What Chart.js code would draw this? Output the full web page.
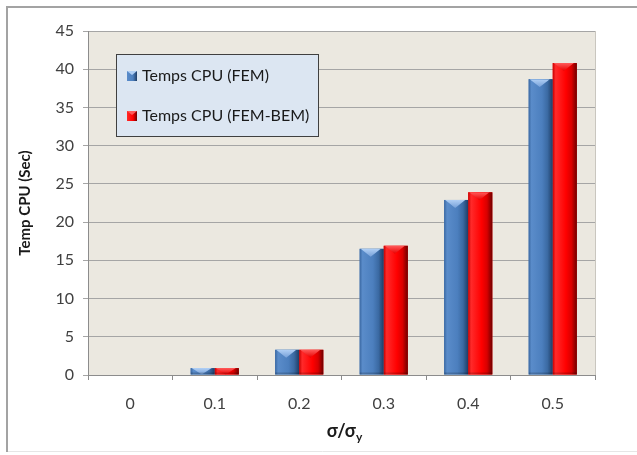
<!DOCTYPE html>
<html>
<head>
<meta charset="utf-8">
<script src="https://cdn.jsdelivr.net/npm/chart.js@4.4.1/dist/chart.umd.min.js"></script>
<style>
  html, body { margin: 0; padding: 0; background: #ffffff; }
  #wrap { width: 637px; height: 455px; position: relative; }
</style>
</head>
<body>
<div id="wrap"><canvas id="c" width="637" height="455"></canvas></div>
<script>
// Stress ratio categories and CPU times (seconds)
const categories = ['0', '0.1', '0.2', '0.3', '0.4', '0.5'];
const cpuFEM = [0, 0.9, 3.3, 16.5, 22.9, 38.7];
const cpuFEMBEM = [0, 0.9, 3.3, 16.9, 23.9, 40.8];
const seriesNames = ['Temps CPU (FEM)', 'Temps CPU (FEM-BEM)'];
const yTicks = { min: 0, max: 45, step: 5 };

const FONT = 'Lato, "Liberation Sans", sans-serif';

// Colour sets for the bevelled bar look
const palettes = [
  { base: '#4a7ebd', stops: ['#3a68a2', '#5a8cca', '#4c7fbe', '#3b6aa3', '#1e3d66'], cap: ['#b0cff5', '#76a0d8'] },
  { base: '#ff0000', stops: ['#c80000', '#ff2a2a', '#ff0000', '#d80000', '#6e0000'], cap: ['#ff5a5a', '#e80000'] }
];

const framePlugin = {
  id: 'frame',
  beforeDraw(chart) {
    const { ctx, chartArea: a } = chart;
    ctx.save();
    ctx.fillStyle = '#ffffff';
    ctx.fillRect(0, 0, chart.width, chart.height);
    // outer frame
    ctx.strokeStyle = '#a3a3a3';
    ctx.lineWidth = 2;
    ctx.beginPath();
    ctx.moveTo(7, 452);
    ctx.lineTo(7, 7);
    ctx.lineTo(chart.width + 2, 7);
    ctx.stroke();
    ctx.strokeStyle = '#e6e6e6';
    ctx.lineWidth = 1;
    ctx.beginPath();
    ctx.moveTo(8, 451.5);
    ctx.lineTo(chart.width, 451.5);
    ctx.stroke();
    // plot background
    ctx.fillStyle = '#ebe8e0';
    ctx.fillRect(a.left, a.top, a.right - a.left, a.bottom - a.top);
    ctx.strokeStyle = '#c9c6bf';
    ctx.beginPath();
    ctx.moveTo(a.right + 0.5, a.top);
    ctx.lineTo(a.right + 0.5, a.bottom);
    ctx.stroke();
    ctx.restore();
  },
  afterDatasetsDraw(chart) {
    const { ctx } = chart;
    ctx.save();
    chart.data.datasets.forEach((ds, di) => {
      const meta = chart.getDatasetMeta(di);
      const pal = palettes[di];
      meta.data.forEach((bar) => {
        const x0 = bar.x - bar.width / 2;
        const x1 = bar.x + bar.width / 2;
        const top = Math.min(bar.y, bar.base);
        const h = Math.abs(bar.base - bar.y);
        if (h < 0.5) return;
        const g = ctx.createLinearGradient(x0, 0, x1, 0);
        [0, 0.12, 0.55, 0.78, 1].forEach((p, i) => g.addColorStop(p, pal.stops[i]));
        ctx.fillStyle = g;
        ctx.fillRect(x0, top, x1 - x0, h);
        // top bevel facet
        ctx.save();
        ctx.beginPath();
        ctx.rect(x0, top, x1 - x0, h);
        ctx.clip();
        const d = Math.min(bar.width * 0.33, h);
        const cg = ctx.createLinearGradient(0, top, 0, top + d);
        cg.addColorStop(0, pal.cap[0]);
        cg.addColorStop(1, pal.cap[1]);
        ctx.fillStyle = cg;
        ctx.beginPath();
        ctx.moveTo(x0 + 1, top);
        ctx.lineTo(x1 - 3, top);
        ctx.lineTo(bar.x - 1, top + d);
        ctx.closePath();
        ctx.fill();
        // bottom shading
        ctx.fillStyle = 'rgba(0,0,0,0.18)';
        ctx.fillRect(x0, top + h - 2, x1 - x0, 2);
        ctx.restore();
      });
    });
    ctx.restore();
  },
  afterDraw(chart) {
    const { ctx, chartArea: a } = chart;
    ctx.save();
    // legend box
    const lx = a.left + 28, ly = a.top + 23, lw = 202, lh = 82;
    ctx.fillStyle = '#dce6f2';
    ctx.fillRect(lx, ly, lw, lh);
    ctx.strokeStyle = '#404040';
    ctx.lineWidth = 1;
    ctx.strokeRect(lx + 0.5, ly + 0.5, lw, lh);
    const rows = [ly + 22, ly + 62];
    chart.data.datasets.forEach((ds, di) => {
      const pal = palettes[di];
      const cy = rows[di];
      const mg = ctx.createLinearGradient(lx + 11, 0, lx + 21, 0);
      mg.addColorStop(0, pal.stops[1]);
      mg.addColorStop(0.6, pal.stops[2]);
      mg.addColorStop(1, pal.stops[4]);
      ctx.fillStyle = mg;
      ctx.fillRect(lx + 11, cy - 5, 10, 10);
      ctx.fillStyle = pal.cap[0];
      ctx.beginPath();
      ctx.moveTo(lx + 11, cy - 5);
      ctx.lineTo(lx + 21, cy - 5);
      ctx.lineTo(lx + 16, cy - 1);
      ctx.closePath();
      ctx.fill();
      ctx.fillStyle = '#1a1a1a';
      ctx.font = '16px ' + FONT;
      ctx.textBaseline = 'middle';
      ctx.textAlign = 'left';
      ctx.fillText(ds.label, lx + 26, cy);
    });
    // x axis title with subscript
    const mainTxt = '\u03c3/\u03c3';
    const subTxt = 'y';
    ctx.fillStyle = '#1a1a1a';
    ctx.textBaseline = 'middle';
    ctx.font = 'bold 18px ' + FONT;
    const w1 = ctx.measureText(mainTxt).width;
    ctx.font = 'bold 12px ' + FONT;
    const w2 = ctx.measureText(subTxt).width;
    const start = (a.left + a.right) / 2 - (w1 + w2) / 2 + 3;
    ctx.font = 'bold 18px ' + FONT;
    ctx.fillText(mainTxt, start, 431);
    ctx.font = 'bold 12px ' + FONT;
    ctx.fillText(subTxt, start + w1, 437);
    ctx.restore();
  }
};

new Chart(document.getElementById('c'), {
  type: 'bar',
  data: {
    labels: categories,
    datasets: [
      { label: seriesNames[0], data: cpuFEM, backgroundColor: palettes[0].base, borderWidth: 0 },
      { label: seriesNames[1], data: cpuFEMBEM, backgroundColor: palettes[1].base, borderWidth: 0 }
    ]
  },
  options: {
    responsive: false,
    animation: false,
    devicePixelRatio: 1,
    layout: { padding: { left: 16, top: 31, right: 42, bottom: 38 } },
    plugins: { legend: { display: false }, tooltip: { enabled: false } },
    datasets: { bar: { categoryPercentage: 0.57, barPercentage: 1 } },
    scales: {
      x: {
        grid: { display: true, drawOnChartArea: false, offset: true, tickLength: 5, color: '#8c8c8c' },
        border: { color: '#8c8c8c' },
        ticks: { color: '#404040', font: { family: FONT, size: 16 }, padding: 14 },
        afterFit(s) { s.height = 42; }
      },
      y: {
        min: yTicks.min,
        max: yTicks.max,
        ticks: { stepSize: yTicks.step, color: '#404040', font: { family: FONT, size: 16 }, padding: 9 },
        grid: { color: '#a5a5a5', tickLength: 5 },
        border: { color: '#8c8c8c' },
        title: {
          display: true,
          text: 'Temp CPU (Sec)',
          color: '#1a1a1a',
          font: { family: FONT, size: 15, weight: 'bold' },
          padding: { top: 0, bottom: 0 }
        },
        afterFit(s) { s.width = 72; }
      }
    }
  },
  plugins: [framePlugin]
});
</script>
</body>
</html>
